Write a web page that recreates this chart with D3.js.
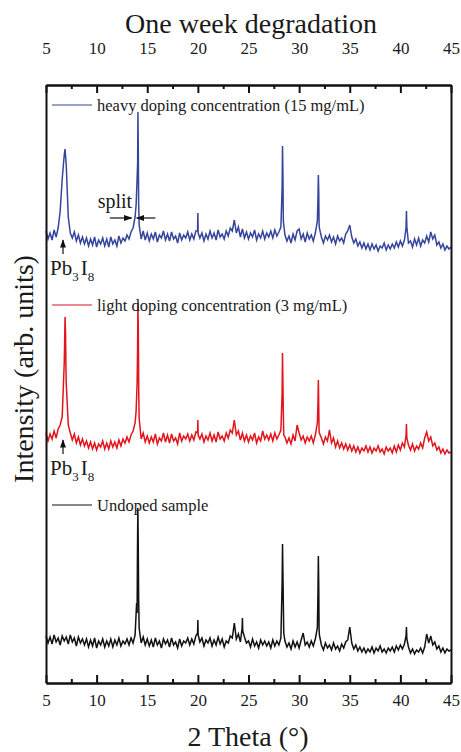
<!DOCTYPE html>
<html>
<head>
<meta charset="utf-8">
<script src="https://cdn.jsdelivr.net/npm/d3@7"></script>
<style>
body { margin: 0; background: #fff; }
svg text { font-family: "Liberation Serif", "Times New Roman", serif; fill: #1a1a1a; }
</style>
</head>
<body>
<div id="chart"></div>
<script>
// 2 theta grid: 5.0 .. 45.0, step 0.2
const thetaStart = 5;
const thetaStep = 0.2;

const seriesLabels = [
    "heavy doping concentration (15 mg/mL)",
    "light doping concentration (3 mg/mL)",
    "Undoped sample",
];
const seriesColors = ["#36459c", "#e2141c", "#111111"];
const seriesOffsets = [400, 200, 0];

const heavyGrid = [
    52,44,50,43,53,46,55,72,104,128,
    118,66,50,45,51,42,48,40,46,39,
    45,37,44,38,46,36,43,39,45,37,
    44,36,46,39,43,37,47,40,45,42,
    48,44,51,55,66,105,58,44,52,43,
    50,42,49,44,51,41,48,45,52,43,
    49,42,51,44,47,40,50,43,48,45,
    51,43,49,44,52,70,45,50,42,49,
    44,52,45,50,43,53,46,49,44,52,
    47,55,52,63,50,56,46,54,45,51,
    44,50,46,53,43,49,45,52,44,50,
    46,52,45,53,47,51,56,110,48,42,
    47,40,49,43,52,54,44,49,41,50,
    44,48,42,50,62,55,46,40,47,43,
    48,41,46,39,47,42,45,40,49,52,
    58,46,40,44,37,41,35,40,34,39,
    33,39,34,38,32,37,35,40,33,38,
    34,39,35,41,36,42,37,43,72,40,
    42,36,44,38,45,37,43,40,47,41,
    51,44,48,38,41,35,39,33,37,34,
    36
];
const heavyPeaks = [
    [6.88, 134], [6.94, 126], [13.9, 78], [14.05, 120], [14.08, 171], [14.12, 128], [14.15, 80],
    [19.97, 52], [20.03, 50], [28.32, 95], [28.36, 137], [28.44, 62],
    [31.86, 85], [31.9, 108], [31.94, 90], [31.97, 60], [40.56, 55], [40.64, 56],
];

const lightGrid = [
    50,42,49,44,52,45,54,58,66,120,
    100,58,50,43,49,40,46,38,44,37,
    42,35,41,34,40,33,39,36,42,34,
    40,34,42,36,41,35,43,37,44,40,
    46,41,48,52,60,100,65,44,50,41,
    47,40,46,41,49,39,45,42,50,41,
    48,40,49,42,45,39,50,42,47,44,
    49,42,48,43,51,63,44,49,41,47,
    43,50,42,48,41,51,44,47,42,50,
    45,53,50,63,48,52,43,50,42,48,
    41,47,43,50,40,46,42,52,44,48,
    43,49,42,50,44,48,53,100,46,40,
    45,39,48,42,58,50,43,47,40,46,
    42,47,40,48,60,50,45,39,46,42,
    53,40,45,36,42,35,40,34,39,33,
    38,32,37,31,36,30,35,32,37,31,
    36,30,35,32,37,31,34,29,36,32,
    35,30,37,31,38,33,40,36,59,38,
    33,39,32,37,34,40,35,45,51,42,
    46,37,40,33,36,30,34,29,33,30,
    31
];
const lightPeaks = [
    [6.84, 140], [6.88, 166], [6.93, 150], [6.97, 115], [13.9, 72], [14.04, 130], [14.08, 180],
    [14.12, 150], [14.16, 90], [19.97, 50], [20.03, 48], [28.32, 90], [28.36, 130], [28.44, 70],
    [28.48, 48], [31.86, 80], [31.9, 103], [31.94, 75], [31.97, 52], [40.56, 48], [40.64, 45],
];

const undopedGrid = [
    47,40,46,39,48,41,45,38,47,42,
    46,39,48,41,45,37,46,40,44,38,
    44,36,43,37,45,35,42,38,44,36,
    42,37,44,36,43,38,45,37,42,39,
    44,38,45,40,48,70,55,40,46,38,
    44,37,43,36,45,38,42,35,44,39,
    43,36,45,38,41,35,44,37,42,40,
    45,38,44,39,47,63,41,45,37,43,
    40,45,37,43,38,46,39,44,36,42,
    40,47,45,60,44,49,41,65,46,40,
    42,36,44,37,41,35,43,38,42,37,
    41,35,43,37,42,38,45,110,42,36,
    40,34,42,36,41,35,43,50,38,41,
    36,42,37,44,55,48,38,33,40,35,
    38,33,40,34,37,32,39,35,41,43,
    56,40,34,38,32,36,31,35,30,34,
    31,36,30,35,32,37,31,34,30,35,
    32,36,31,37,33,38,34,39,56,36,
    30,34,29,33,31,35,30,36,49,40,
    47,38,41,34,37,31,35,30,34,32,
    33
];
const undopedPeaks = [
    [13.95, 80], [14.03, 125], [14.07, 175], [14.11, 140], [14.15, 85], [19.97, 50], [20.03, 48],
    [24.37, 55], [24.43, 52], [28.32, 100], [28.36, 139], [28.44, 80], [28.48, 50],
    [31.86, 90], [31.9, 127], [31.94, 95], [31.97, 55], [40.56, 47], [40.64, 44],
];

const majorTicks = [5, 10, 15, 20, 25, 30, 35, 40, 45];
const minorTicks = [7.5, 12.5, 17.5, 22.5, 27.5, 32.5, 37.5, 42.5];

const width = 461, height = 752;
const plotLeft = 46, plotRight = 451, plotTop = 85, plotBottom = 683;

const x = d3.scaleLinear().domain([5, 45]).range([plotLeft, plotRight]);
const y = d3.scaleLinear().domain([0, 598]).range([plotBottom, plotTop]);

function buildSeries(grid, peaks, offset) {
    const pts = grid.map((v, i) => [thetaStart + i * thetaStep, v]);
    return pts.concat(peaks).sort((a, b) => a[0] - b[0]).map(d => [d[0], d[1] + offset]);
}

const series = [
    buildSeries(heavyGrid, heavyPeaks, seriesOffsets[0]),
    buildSeries(lightGrid, lightPeaks, seriesOffsets[1]),
    buildSeries(undopedGrid, undopedPeaks, seriesOffsets[2]),
];

const svg = d3.select("#chart").append("svg").attr("width", width).attr("height", height);

// traces
const line = d3.line().x(d => x(d[0])).y(d => y(d[1]));
svg.append("g").attr("class", "traces").selectAll("path").data(series).enter().append("path")
    .attr("d", line)
    .attr("fill", "none")
    .attr("stroke", (d, i) => seriesColors[i])
    .attr("stroke-width", 1.5)
    .attr("stroke-linejoin", "miter");

// axes
function styleAxis(g) {
    g.selectAll("path.domain").attr("stroke", "#111").attr("stroke-width", 2);
    g.selectAll(".tick line").attr("stroke", "#111").attr("stroke-width", 2);
    g.selectAll(".tick text").attr("font-size", 17).attr("font-family", "Liberation Serif").attr("fill", "#1a1a1a");
}

svg.append("g").attr("transform", `translate(0,${plotBottom})`)
    .call(d3.axisBottom(x).tickValues(majorTicks).tickSizeInner(-8).tickSizeOuter(0).tickPadding(11).tickFormat(d3.format("d")))
    .call(styleAxis);
svg.append("g").attr("transform", `translate(0,${plotBottom})`)
    .call(d3.axisBottom(x).tickValues(minorTicks).tickSizeInner(-4).tickSizeOuter(0).tickFormat(""))
    .call(styleAxis);
svg.append("g").attr("transform", `translate(0,${plotTop})`)
    .call(d3.axisTop(x).tickValues(majorTicks).tickSizeInner(-8).tickSizeOuter(0).tickPadding(31).tickFormat(d3.format("d")))
    .call(styleAxis);
svg.append("g").attr("transform", `translate(0,${plotTop})`)
    .call(d3.axisTop(x).tickValues(minorTicks).tickSizeInner(-4).tickSizeOuter(0).tickFormat(""))
    .call(styleAxis);
svg.append("g").attr("transform", `translate(${plotLeft},0)`)
    .call(d3.axisLeft(y).tickValues([]).tickSizeOuter(0))
    .call(styleAxis);
svg.append("g").attr("transform", `translate(${plotRight},0)`)
    .call(d3.axisRight(y).tickValues([]).tickSizeOuter(0))
    .call(styleAxis);

// titles
svg.append("text").attr("x", 251).attr("y", 33).attr("text-anchor", "middle")
    .attr("font-size", 28).text("One week degradation");
svg.append("text").attr("x", 248).attr("y", 746).attr("text-anchor", "middle")
    .attr("font-size", 28).text("2 Theta (°)");
svg.append("text").attr("transform", "translate(33,369) rotate(-90)").attr("text-anchor", "middle")
    .attr("font-size", 28).text("Intensity (arb. units)");

// legends, one above each trace
const legend = svg.append("g").attr("class", "legend").selectAll("g").data(seriesLabels).enter().append("g")
    .attr("transform", (d, i) => `translate(0,${y(seriesOffsets[i] + 178)})`);
legend.append("line").attr("x1", 52).attr("x2", 92).attr("y1", 0).attr("y2", 0)
    .attr("stroke", (d, i) => seriesColors[i]).attr("stroke-width", 1.2);
legend.append("text").attr("x", 97).attr("y", 6).attr("font-size", 16.5).text(d => d);

// annotations
svg.append("defs").append("marker")
    .attr("id", "head").attr("viewBox", "0 0 10 10").attr("refX", 9).attr("refY", 5)
    .attr("markerWidth", 7).attr("markerHeight", 7).attr("orient", "auto-start-reverse")
    .append("path").attr("d", "M0,1.5L10,5L0,8.5Z").attr("fill", "#111");

function arrow(x1, v1, x2, v2) {
    svg.append("line")
        .attr("x1", x(x1)).attr("y1", y(v1)).attr("x2", x(x2)).attr("y2", y(v2))
        .attr("stroke", "#111").attr("stroke-width", 1.2).attr("marker-end", "url(#head)");
}

[seriesOffsets[0], seriesOffsets[1]].forEach(off => {
    arrow(6.68, off + 29, 6.68, off + 43);
    const t = svg.append("text").attr("x", x(5.4)).attr("y", y(off + 8)).attr("font-size", 21);
    t.append("tspan").text("Pb");
    t.append("tspan").attr("font-size", 13).attr("dy", 6).text("3");
    t.append("tspan").attr("dx", 2).attr("dy", -6).text("I");
    t.append("tspan").attr("font-size", 13).attr("dy", 6).text("8");
});

svg.append("text").attr("x", x(10.1)).attr("y", y(seriesOffsets[0] + 75)).attr("font-size", 20).text("split");
arrow(11.3, seriesOffsets[0] + 65, 13.45, seriesOffsets[0] + 65);
arrow(15.8, seriesOffsets[0] + 65, 13.95, seriesOffsets[0] + 65);
</script>
</body>
</html>
